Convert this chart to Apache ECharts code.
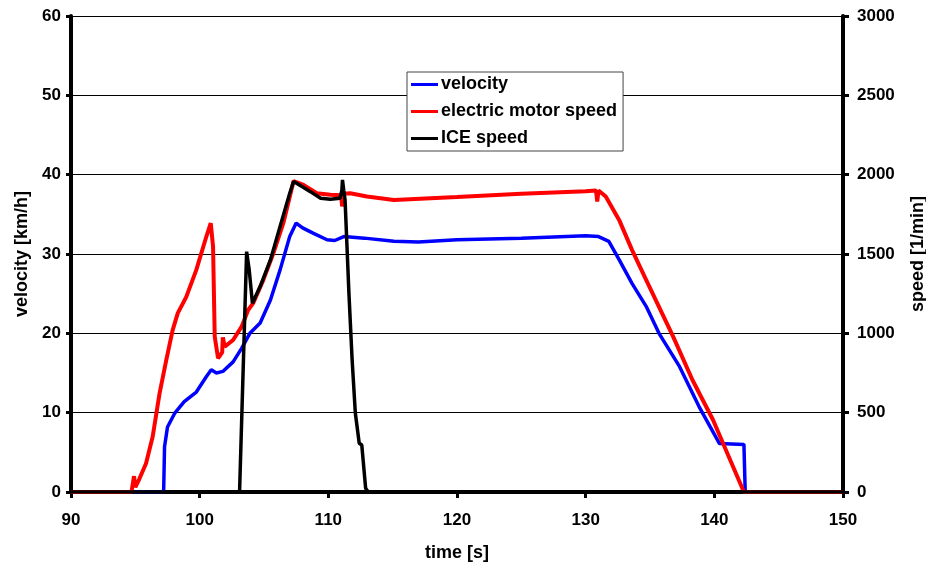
<!DOCTYPE html>
<html>
<head>
<meta charset="utf-8">
<script src="https://cdn.jsdelivr.net/npm/echarts@6/dist/echarts.min.js"></script>
<style>
html,body{margin:0;padding:0;background:#fff;}
#chart{width:926px;height:565px;}
</style>
</head>
<body>
<div id="chart"></div>
<script>
// time axis ticks
var xTicks = [90, 100, 110, 120, 130, 140, 150];
var leftTicks = [0, 10, 20, 30, 40, 50, 60];
var rightTicks = [0, 500, 1000, 1500, 2000, 2500, 3000];

// velocity [km/h]
var velTime = [90, 97.2, 97.27, 97.5, 98.05, 98.8, 99.74, 100.5, 100.9, 101.3, 101.8, 102.6, 103.26, 103.9, 104.7, 105.5, 106.25, 107.0, 107.5, 108.0, 108.85, 109.9, 110.5, 111.2, 112.8, 115.1, 117, 120, 125, 130, 131, 131.8, 132.6, 133.6, 134.7, 135.7, 137.3, 138.8, 140.4, 142.3, 142.4, 150];
var velValues = [0, 0, 5.7, 8.2, 9.9, 11.4, 12.6, 14.5, 15.4, 15.0, 15.2, 16.4, 18.1, 20.0, 21.3, 24.2, 28.0, 32.2, 33.9, 33.3, 32.6, 31.8, 31.7, 32.2, 32.0, 31.6, 31.5, 31.8, 32.0, 32.3, 32.2, 31.6, 29.3, 26.3, 23.4, 20.0, 15.8, 10.8, 6.1, 6.0, 0, 0];

// electric motor speed [1/min]
var motorTime = [90, 94.7, 94.9, 95.0, 95.3, 95.83, 96.35, 96.88, 97.4, 97.9, 98.3, 98.96, 99.74, 100.52, 100.86, 101.04, 101.17, 101.43, 101.75, 101.8, 101.95, 102.6, 103.26, 103.77, 104.16, 104.95, 105.73, 106.5, 107.3, 108.07, 109.1, 110.16, 111.0, 111.07, 111.2, 111.7, 113.0, 115.1, 120, 125, 130, 130.8, 130.9, 131.0, 131.56, 132.6, 133.6, 134.7, 136.8, 138.3, 139.9, 140.9, 142.3, 150];
var motorValues = [0, 0, 100, 30, 80, 180, 350, 620, 830, 1020, 1127, 1230, 1400, 1610, 1694, 1547, 979, 843, 880, 975, 916, 958, 1042, 1147, 1190, 1337, 1505, 1694, 1960, 1936, 1883, 1873, 1870, 1800, 1880, 1883, 1862, 1841, 1860, 1880, 1895, 1900, 1830, 1900, 1862, 1715, 1526, 1337, 979, 706, 454, 265, 0, 0];

// ICE speed [1/min]
var iceTime = [90, 103.1, 103.65, 103.85, 104.1, 104.7, 105.5, 106.25, 107.0, 107.3, 107.95, 108.6, 109.4, 110.16, 110.9, 111.05, 111.1, 111.2, 111.3, 111.6, 111.85, 112.1, 112.4, 112.6, 112.9, 113.1, 150];
var iceValues = [0, 0, 1515, 1400, 1190, 1295, 1463, 1673, 1883, 1957, 1925, 1893, 1851, 1845, 1851, 1900, 1967, 1900, 1841, 1253, 832, 496, 307, 296, 23, 0, 0];

function zip(a, b) { return a.map(function (t, i) { return [t, b[i]]; }); }

var FONT = '"Liberation Sans", Arial, sans-serif';
var chart = echarts.init(document.getElementById('chart'), null, { renderer: 'canvas' });
var axisLabelStyle = { color: '#000', fontFamily: FONT, fontWeight: 'bold', fontSize: 17 };
var nameStyle = { color: '#000', fontFamily: FONT, fontWeight: 'bold', fontSize: 18 };
function plain(v) { return String(v); }

chart.setOption({
  animation: false,
  backgroundColor: '#fff',
  grid: { left: 71, right: 83, top: 16, bottom: 73, containLabel: false, outerBoundsMode: 'none' },
  legend: {
    orient: 'vertical',
    left: 407, top: 72,
    padding: [3, 6, 3, 4],
    backgroundColor: '#fff',
    borderColor: '#444', borderWidth: 1,
    icon: 'rect', itemWidth: 27, itemHeight: 3, itemGap: 8,
    itemStyle: { borderWidth: 0 },
    textStyle: { color: '#000', fontFamily: FONT, fontWeight: 'bold', fontSize: 18, lineHeight: 19, padding: [0, 0, 0, -2] },
    data: ['velocity', 'electric motor speed', 'ICE speed']
  },
  xAxis: {
    type: 'value', min: xTicks[0], max: xTicks[xTicks.length - 1], interval: 10,
    name: 'time [s]', nameLocation: 'middle', nameGap: 52, nameTextStyle: nameStyle,
    axisLine: { show: true, onZero: false, lineStyle: { color: '#000', width: 4 } },
    axisTick: { show: true, inside: false, length: 6, lineStyle: { color: '#000', width: 3 } },
    axisLabel: Object.assign({ margin: 20, formatter: plain }, axisLabelStyle),
    splitLine: { show: false }
  },
  yAxis: [{
    type: 'value', min: leftTicks[0], max: leftTicks[leftTicks.length - 1], interval: 10,
    position: 'left',
    name: 'velocity [km/h]', nameLocation: 'middle', nameGap: 40, nameRotate: 90, nameTextStyle: nameStyle,
    axisLine: { show: true, lineStyle: { color: '#000', width: 4 } },
    axisTick: { show: true, inside: false, length: 5, lineStyle: { color: '#000', width: 3 } },
    axisLabel: Object.assign({ margin: 10, formatter: plain }, axisLabelStyle),
    splitLine: { show: true, lineStyle: { color: '#000', width: 1 } }
  }, {
    type: 'value', min: rightTicks[0], max: rightTicks[rightTicks.length - 1], interval: 500,
    position: 'right',
    name: 'speed [1/min]', nameLocation: 'middle', nameGap: 66, nameRotate: 90, nameTextStyle: nameStyle,
    axisLine: { show: true, lineStyle: { color: '#000', width: 4 } },
    axisTick: { show: true, inside: false, length: 6, lineStyle: { color: '#000', width: 3 } },
    axisLabel: Object.assign({ margin: 14, formatter: plain }, axisLabelStyle),
    splitLine: { show: false }
  }],
  series: [{
    name: 'velocity', type: 'line', yAxisIndex: 0, showSymbol: false, symbol: 'none',
    data: zip(velTime, velValues),
    itemStyle: { color: '#0000ff' },
    lineStyle: { color: '#0000ff', width: 3.5 }
  }, {
    name: 'electric motor speed', type: 'line', yAxisIndex: 1, showSymbol: false, symbol: 'none',
    data: zip(motorTime, motorValues),
    itemStyle: { color: '#ff0000' },
    lineStyle: { color: '#ff0000', width: 4 }
  }, {
    name: 'ICE speed', type: 'line', yAxisIndex: 1, showSymbol: false, symbol: 'none',
    data: zip(iceTime, iceValues),
    itemStyle: { color: '#000000' },
    lineStyle: { color: '#000000', width: 3.5 }
  }]
});
</script>
</body>
</html>
